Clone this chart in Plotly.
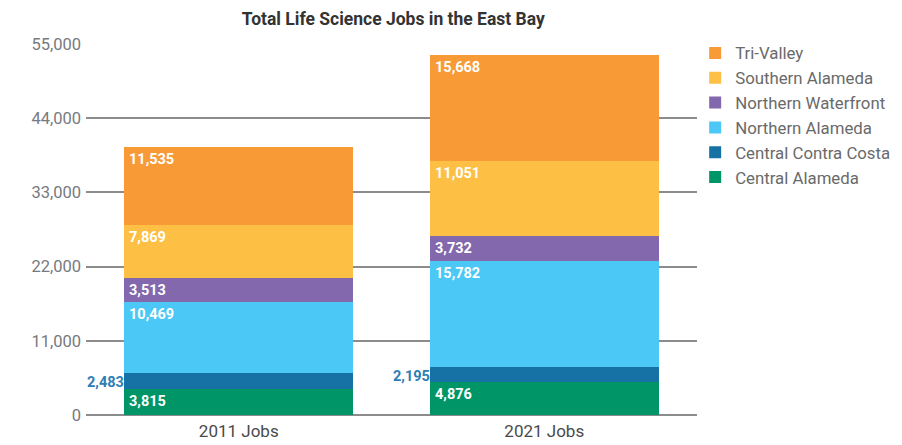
import plotly.graph_objects as go

categories = ["2011 Jobs", "2021 Jobs"]
series_names = ["Central Alameda", "Central Contra Costa", "Northern Alameda",
                "Northern Waterfront", "Southern Alameda", "Tri-Valley"]
series_values = {
    "Central Alameda": [3815, 4876],
    "Central Contra Costa": [2483, 2195],
    "Northern Alameda": [10469, 15782],
    "Northern Waterfront": [3513, 3732],
    "Southern Alameda": [7869, 11051],
    "Tri-Valley": [11535, 15668],
}
colors = {
    "Central Alameda": "#009566",
    "Central Contra Costa": "#1672A4",
    "Northern Alameda": "#4BC8F5",
    "Northern Waterfront": "#8468AD",
    "Southern Alameda": "#FDC045",
    "Tri-Valley": "#F89B36",
}
tick_vals = [0, 11000, 22000, 33000, 44000, 55000]
tick_text = ["0", "11,000", "22,000", "33,000", "44,000", "55,000"]

BAR_W = 0.75
FONT = "Roboto"

fig = go.Figure()
for i, name in enumerate(series_names):
    fig.add_trace(go.Bar(
        x=list(range(len(categories))), y=series_values[name], name=name,
        marker=dict(color=colors[name], line=dict(width=0)),
        width=BAR_W, legendgroup=name, hoverinfo="y+name",
    ))

annotations = []
cum = [0] * len(categories)
for name in series_names:
    vals = series_values[name]
    for j, v in enumerate(vals):
        bottom = cum[j]
        top = bottom + v
        if name == "Central Contra Costa":
            annotations.append(dict(
                x=j - BAR_W / 2, y=(bottom + top) / 2, xref="x", yref="y",
                text=f"<b>{v:,}</b>", showarrow=False, xanchor="right", yanchor="middle",
                xshift=2, yshift=-2,
                font=dict(family=FONT, size=14.5, color="#2C7EB5"),
            ))
        else:
            annotations.append(dict(
                x=j - BAR_W / 2, y=top, xref="x", yref="y",
                text=f"<b>{v:,}</b>", showarrow=False, xanchor="left", yanchor="top",
                xshift=3, yshift=-2,
                font=dict(family=FONT, size=14.5, color="white"),
            ))
        cum[j] = top

fig.update_layout(
    width=894, height=437,
    margin=dict(l=78, r=205, t=36, b=30, autoexpand=False),
    barmode="stack",
    plot_bgcolor="white", paper_bgcolor="white",
    title=dict(text="<b>Total Life Science Jobs in the East Bay</b>",
               x=0.431, xanchor="center", y=0.99, yanchor="top",
               font=dict(family=FONT, size=17.5, color="#333333")),
    font=dict(family=FONT),
    legend=dict(x=0.997, xanchor="left", y=1.023, yanchor="top",
                traceorder="reversed", tracegroupgap=4,
                font=dict(family=FONT, size=16.8, color="#6a6a6a"),
                bgcolor="rgba(0,0,0,0)"),
    annotations=annotations,
)
fig.update_xaxes(
    tickmode="array", tickvals=list(range(len(categories))), ticktext=categories,
    range=[-0.5, 1.5], showgrid=False, showline=False, zeroline=False,
    tickfont=dict(family=FONT, size=17, color="#4a4a4a"), ticks="",
    ticklabelstandoff=4, automargin=False,
)
fig.update_yaxes(
    range=[0, 55000], tickmode="array", tickvals=tick_vals, ticktext=tick_text,
    showgrid=True, gridcolor="#8c8c8c", gridwidth=1.5,
    zeroline=True, zerolinecolor="#8c8c8c", zerolinewidth=1.5,
    showline=False, ticks="", ticklabelstandoff=4,
    tickfont=dict(family=FONT, size=16.5, color="#777a80"),
    automargin=False,
)

fig.write_html("out.html")
